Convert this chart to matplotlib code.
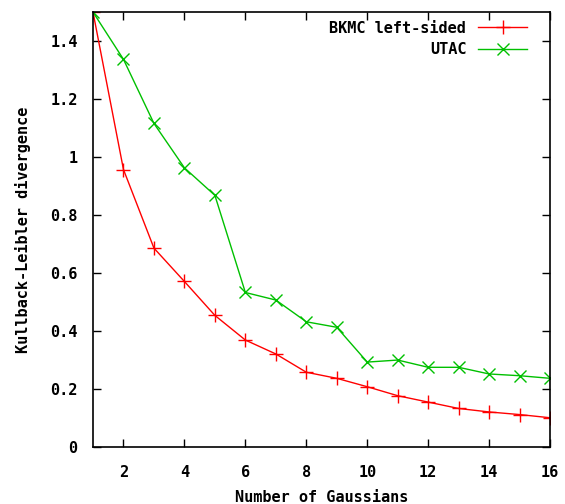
import matplotlib
matplotlib.use("Agg")
import matplotlib.pyplot as plt
from matplotlib.ticker import FuncFormatter

# number of gaussians
n_gauss = list(range(1, 17))

# KL divergence values
bkmc_left = [1.5, 0.957, 0.686, 0.571, 0.454, 0.369, 0.321, 0.258, 0.237, 0.208,
             0.177, 0.155, 0.133, 0.121, 0.112, 0.101]
utac = [1.5, 1.337, 1.116, 0.963, 0.868, 0.533, 0.507, 0.432, 0.413, 0.293,
        0.300, 0.275, 0.275, 0.252, 0.246, 0.237]

xticks = [2, 4, 6, 8, 10, 12, 14, 16]
yticks = [0, 0.2, 0.4, 0.6, 0.8, 1.0, 1.2, 1.4]

plt.rcParams['font.family'] = ['DejaVu Sans Mono']
plt.rcParams['font.weight'] = 'bold'

fig = plt.figure(figsize=(5.65, 5.04), dpi=100)
ax = fig.add_axes([0.1646, 0.113, 0.809, 0.863])

ax.plot(n_gauss, bkmc_left, color='#ff0000', marker='+', markersize=10,
        markeredgewidth=1.0, linewidth=1.0, label='BKMC left-sided')
ax.plot(n_gauss, utac, color='#00c000', marker='x', markersize=9,
        markeredgewidth=1.0, linewidth=1.0, label='UTAC')

ax.set_xlim(1, 16)
ax.set_ylim(0, 1.5)
ax.set_xticks(xticks)
ax.set_yticks(yticks)

def fmt(v, pos):
    return ('%g' % round(v, 1))
ax.yaxis.set_major_formatter(FuncFormatter(fmt))

ax.tick_params(direction='in', top=True, right=True, length=6, width=1,
               labelsize=11)
ax.tick_params(axis='x', pad=13)
ax.tick_params(axis='y', pad=11)
for s in ax.spines.values():
    s.set_linewidth(1.2)

ax.set_xlabel('Number of Gaussians', fontsize=11, fontweight='bold', labelpad=7)
ax.set_ylabel('Kullback-Leibler divergence', fontsize=11, fontweight='bold', labelpad=14)

ax.legend(loc='upper right', bbox_to_anchor=(1 - 12 / 457, 1.005), frameon=False,
          markerfirst=False, fontsize=11, handlelength=3.2, borderaxespad=0.3,
          labelspacing=0.45)

fig.savefig('out.png', dpi=100)
